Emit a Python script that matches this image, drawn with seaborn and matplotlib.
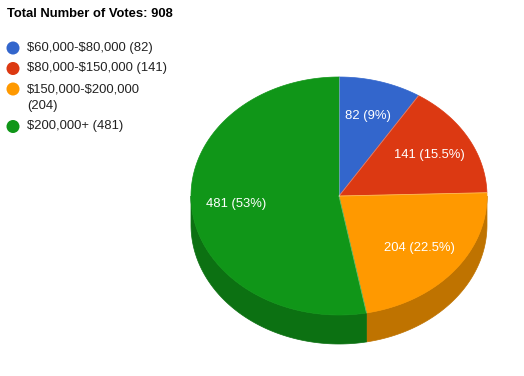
import numpy as np
import matplotlib
matplotlib.use('Agg')
import matplotlib.pyplot as plt
from matplotlib.colors import to_rgb
import seaborn as sns

sns.set_style('white')
plt.rcParams['font.family'] = ['Liberation Sans', 'DejaVu Sans']

# --- data ---
title = 'Total Number of Votes: 908'
labels = ['$60,000-$80,000', '$80,000-$150,000', '$150,000-$200,000', '$200,000+']
legend_lines = [['$60,000-$80,000 (82)'],
                ['$80,000-$150,000 (141)'],
                ['$150,000-$200,000', '(204)'],
                ['$200,000+ (481)']]
votes = [82, 141, 204, 481]
colors = sns.color_palette(['#3366cc', '#dc3912', '#ff9900', '#109618'])

# --- geometry (pixel units) ---
cx, cy = 339, 196
rx, ry = 148, 119
depth = 29
fs = 9.36  # 13px

def pt(theta, r=1.0, dy=0.0):
    # theta in degrees, clockwise from 12 o'clock
    t = np.radians(theta)
    return cx + rx * r * np.sin(t), cy - ry * r * np.cos(t) + dy

fig = plt.figure(figsize=(5.24, 3.76), dpi=100)
ax = fig.add_axes([0, 0, 1, 1])
ax.set_xlim(0, 524)
ax.set_ylim(376, 0)
ax.axis('off')

total = sum(votes)
bounds = np.concatenate([[0], np.cumsum(votes) / total * 360])

# side walls (front half: 90..270 deg)
for i, c in enumerate(colors):
    a, b = max(bounds[i], 90), min(bounds[i + 1], 270)
    if b <= a:
        continue
    th = np.linspace(a, b, 100)
    xt, yt = pt(th)
    xb, yb = pt(th[::-1], dy=depth)
    side = np.array(to_rgb(c)) * 0.75
    ax.fill(np.r_[xt, xb], np.r_[yt, yb], color=side, ec=side, lw=0.5)

# top face
for i, c in enumerate(colors):
    th = np.linspace(bounds[i], bounds[i + 1], 200)
    xs, ys = pt(th)
    ax.fill(np.r_[cx, xs], np.r_[cy, ys], color=c, ec=c, lw=0.5)

# slice borders
for b in bounds[:-1]:
    x1, y1 = pt(b)
    ax.plot([cx, x1], [cy, y1], color='white', lw=0.6, alpha=0.35)

# slice labels
for i in range(len(votes)):
    mid = (bounds[i] + bounds[i + 1]) / 2
    p = round(votes[i] / total * 100, 1)
    x, y = pt(mid, r=0.7)
    ax.text(x, y, f'{votes[i]} ({p:g}%)', color='white', fontsize=fs,
            ha='center', va='center', parse_math=False)

# title
ax.text(7, 14, title, fontsize=fs, fontweight='bold', color='#000000',
        ha='left', va='center', parse_math=False)

# legend
y = 48
for i, lines in enumerate(legend_lines):
    ax.scatter([13], [y], s=88, color=colors[i], edgecolors='none')
    for j, line in enumerate(lines):
        ax.text(27, y + j * 17, line, fontsize=fs, color='#222222',
                ha='left', va='center', parse_math=False)
    y += 20.5 + 17 * (len(lines) - 1)

fig.savefig('out.png', dpi=100)
